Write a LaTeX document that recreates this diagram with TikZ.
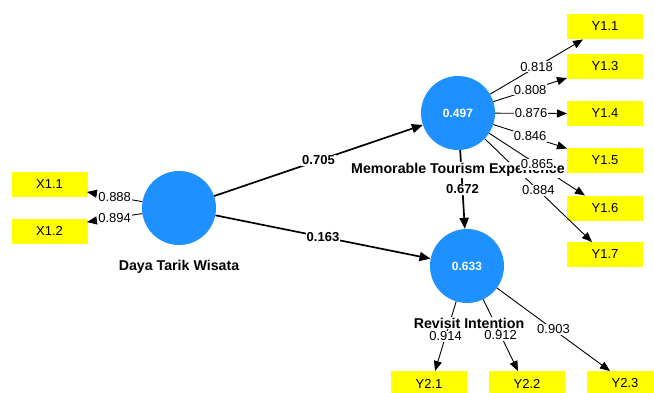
\documentclass[tikz,border=0pt]{standalone}
\usepackage{fontspec}
\setmainfont{Liberation Sans}
\usetikzlibrary{arrows.meta}
\definecolor{lvblue}{RGB}{30,144,255}
\definecolor{mvyellow}{RGB}{255,255,0}
\tikzset{
  lv/.style={circle, fill=lvblue, minimum size=74pt, inner sep=0pt, text=white, font=\fontsize{12}{12}\selectfont\bfseries},
  mv/.style={rectangle, fill=mvyellow, minimum width=76pt, minimum height=25pt, inner sep=0pt, font=\fontsize{13}{13}\selectfont},
  path/.style={line width=1.7pt, -{Triangle[length=11pt,width=9pt]}},
  load/.style={line width=0.9pt, -{Triangle[length=10pt,width=8pt]}},
  coef/.style={fill=white, inner sep=1pt, font=\fontsize{13}{13}\selectfont\bfseries},
  lval/.style={fill=white, inner sep=1pt, font=\fontsize{13}{13}\selectfont},
  lvname/.style={fill=white, inner sep=1pt, font=\fontsize{14.2}{14.2}\selectfont\bfseries},
}
\begin{document}
\begin{tikzpicture}[x=1pt, y=-1pt]
\useasboundingbox[fill=white] (0,0) rectangle (654,392);
% latent variables
\node[lv] (dtw) at (179,208) {};
\node[lv] (mte) at (458,113) {0.497};
\node[lv] (ri) at (467,266) {0.633};
% indicators
\node[mv] (x11) at (49.5,184.5) {X1.1};
\node[mv] (x12) at (49.5,231) {X1.2};
\node[mv] (y11) at (605,26.5) {Y1.1};
\node[mv] (y13) at (605,66.5) {Y1.3};
\node[mv] (y14) at (605,113.5) {Y1.4};
\node[mv] (y15) at (605,160.5) {Y1.5};
\node[mv] (y16) at (605,208) {Y1.6};
\node[mv] (y17) at (605,254.5) {Y1.7};
\node[mv] (y21) at (429,383.5) {Y2.1};
\node[mv] (y22) at (527,383.5) {Y2.2};
\node[mv] (y23) at (625,383.5) {Y2.3};
% arrow tips
\coordinate (tx1) at (87,192);
\coordinate (tx2) at (87,222);
\coordinate (t11) at (583,39.5);
\coordinate (t13) at (567,78);
\coordinate (t14) at (567,113.5);
\coordinate (t15) at (567,148.5);
\coordinate (t16) at (585,195.5);
\coordinate (t17) at (592,242);
\coordinate (t21) at (435,371);
\coordinate (t22) at (518,371);
\coordinate (t23) at (610,371);
% connectors (lines)
\draw[path] (dtw) -- (mte) coordinate[midway] (m1);
\draw[path] (dtw) -- (ri) coordinate[midway] (m2);
\draw[path] (mte) -- (ri) coordinate[midway] (m3);
\draw[load] (dtw) -- (tx1) coordinate[midway] (lx1);
\draw[load] (dtw) -- (tx2) coordinate[midway] (lx2);
\draw[load] (mte) -- (t11) coordinate[midway] (l11);
\draw[load] (mte) -- (t13) coordinate[midway] (l13);
\draw[load] (mte) -- (t14) coordinate[midway] (l14);
\draw[load] (mte) -- (t15) coordinate[midway] (l15);
\draw[load] (mte) -- (t16) coordinate[midway] (l16);
\draw[load] (mte) -- (t17) coordinate[midway] (l17);
\draw[load] (ri) -- (t21) coordinate[midway] (l21);
\draw[load] (ri) -- (t22) coordinate[midway] (l22);
\draw[load] (ri) -- (t23) coordinate[midway] (l23);
% construct names
\node[lvname] (ndtw) at (179,267) {Daya Tarik Wisata};
\node[lvname] (nmte) at (458,170) {Memorable Tourism Experience};
\node[lvname] (nri) at (469,323) {Revisit Intention};
% labels
\node[coef] at (m1) {0.705};
\node[coef] at (m2) {0.163};
\node[coef] at (m3) {0.672};
\node[lval] at (lx1) {0.888};
\node[lval] at (lx2) {0.894};
\node[lval] at (l11) {0.818};
\node[lval] at (l13) {0.808};
\node[lval] at (l14) {0.876};
\node[lval] at (l15) {0.846};
\node[lval] at (l16) {0.865};
\node[lval] at (l17) {0.884};
\node[lval] at (l21) {0.914};
\node[lval] at (l22) {0.912};
\node[lval] at (l23) {0.903};
\end{tikzpicture}
\end{document}
